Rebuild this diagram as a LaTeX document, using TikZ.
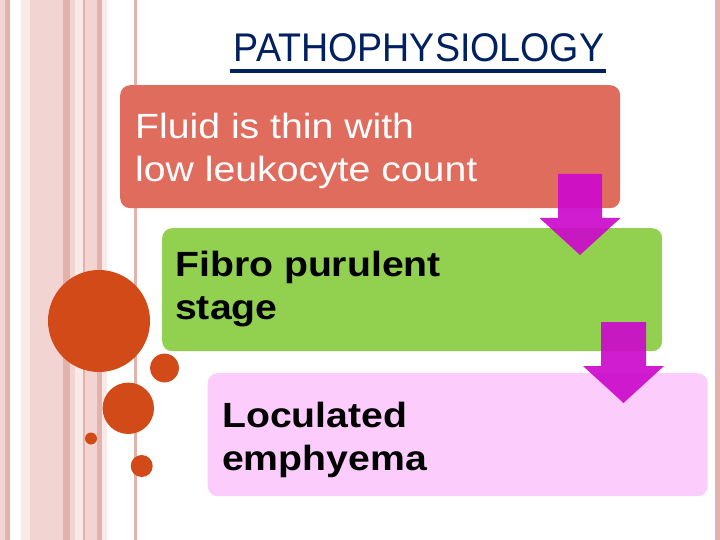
\documentclass[tikz,border=0pt]{standalone}
\usepackage{fontspec}
\setmainfont{Liberation Sans}
\newfontfamily\titlefont[FakeStretch=0.94]{Liberation Sans}
\newfontfamily\boxfont[FakeStretch=1.12]{Liberation Sans}

\begin{document}
\begin{tikzpicture}[x=1pt,y=-1pt,
  stagebox/.style={rectangle,rounded corners=10pt,inner sep=0pt,anchor=north west,
    minimum width=500pt,minimum height=123pt},
  stagetext/.style={anchor=north west,align=left,inner sep=0pt,
    font=\boxfont\fontsize{35}{43}\selectfont},
  downarrow/.style={fill=Carr,opacity=0.92}]

% Canvas: 720 x 540, y axis flipped so y=0 is the top edge (1pt = 1px).

% ── Colours ──────────────────────────────────────────────────────────────────
\definecolor{Cstl}{RGB}{242,212,210}   % light stripe
\definecolor{Cstm}{RGB}{228,178,172}   % medium stripe
\definecolor{Cstv}{RGB}{249,234,232}   % very light stripe
\definecolor{Cred}{RGB}{224,108,94}    % first stage
\definecolor{Cgrn}{RGB}{146,208,80}    % second stage
\definecolor{Cpnk}{RGB}{252,204,252}   % third stage
\definecolor{Carr}{RGB}{204,10,204}    % block arrows
\definecolor{Cdot}{RGB}{210,74,24}     % bubbles
\definecolor{Ctitle}{RGB}{0,32,96}     % heading

\useasboundingbox (0,0) rectangle (720,540);
\fill[white] (0,0) rectangle (720,540);

% ── Side stripes ─────────────────────────────────────────────────────────────
\foreach \xa/\xb/\col in {0/5/Cstl, 5/10/Cstm, 20.7/30/Cstv, 30/63.3/Cstl,
    63.3/70/Cstm, 70/75/Cstl, 75/83/Cstv, 83/85/Cstm, 85/96.7/Cstl,
    96.7/101.7/Cstm, 101.7/106.7/Cstv, 134/136.7/Cstm, 715/720/Cstm}
  \fill[\col] (\xa,0) rectangle (\xb,540);

% ── Bubbles ──────────────────────────────────────────────────────────────────
\foreach \x/\y/\r in {99/321/51, 164.5/368/14.4, 128.3/408.3/25.7,
    91/438.5/6, 141.7/466/11}
  \fill[Cdot] (\x,\y) circle[radius=\r];

% ── Heading ──────────────────────────────────────────────────────────────────
\node[font=\titlefont\fontsize{40}{48}\selectfont,text=Ctitle,anchor=base,
  inner sep=0pt] (title) at (419,62) {PATHOPHYSIOLOGY};
\draw[Ctitle,line width=3.5pt] ([xshift=-4pt,yshift=-9pt]title.base west)
  -- ([xshift=2pt,yshift=-9pt]title.base east);

% ── Stages ───────────────────────────────────────────────────────────────────
\node[stagebox,fill=Cred] (fluid)  at (120,85)  {};
\node[stagebox,fill=Cgrn] (fibro)  at (162,228) {};
\node[stagebox,fill=Cpnk] (locul)  at (207.5,373) {};

\node[stagetext,text=white] (fluidtxt) at (135,112.5)
  {Fluid is thin with\\low leukocyte count};
\node[stagetext,font=\boxfont\bfseries\fontsize{35}{43}\selectfont]
  (fibrotxt) at (175,250.5) {Fibro purulent\\stage};
\node[stagetext,font=\boxfont\bfseries\fontsize{35}{43}\selectfont]
  (locultxt) at (222,401.5) {Loculated\\emphyema};

% ── Block arrows between stages ──────────────────────────────────────────────
\fill[downarrow] (558,174) -- (602,174) -- (602,218) -- (620.5,218)
  -- (580,255) -- (539.5,218) -- (558,218) -- cycle;
\fill[downarrow] (601,322) -- (646,322) -- (646,366) -- (664,366)
  -- (623.5,403) -- (583,366) -- (601,366) -- cycle;

\end{tikzpicture}
\end{document}
